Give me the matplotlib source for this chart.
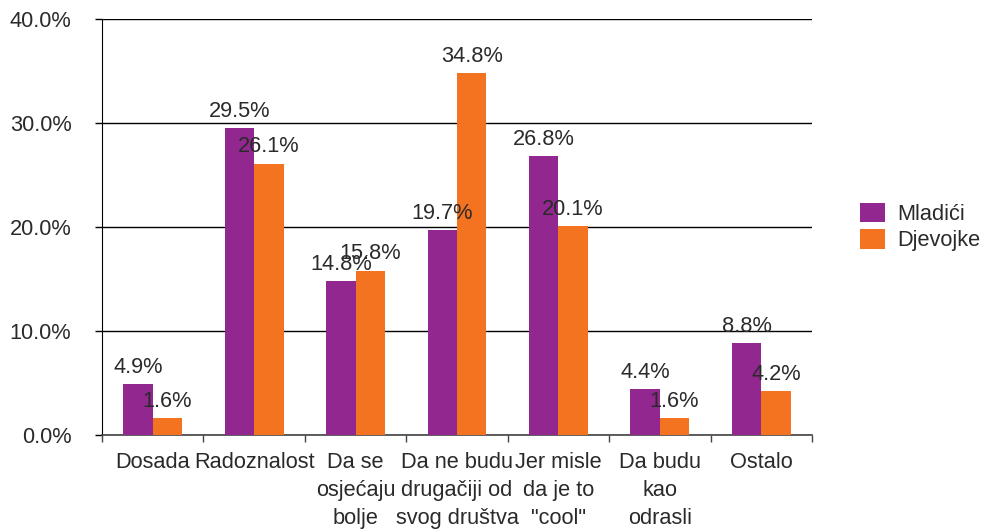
import matplotlib
matplotlib.use("Agg")
import matplotlib.pyplot as plt
import numpy as np

# Razlozi (kategorije) i postoci po spolu
categories = ["Dosada", "Radoznalost", "Da se\nosjećaju\nbolje",
              "Da ne budu\ndrugačiji od\nsvog društva", "Jer misle\nda je to\n\"cool\"",
              "Da budu\nkao\nodrasli", "Ostalo"]
mladici = [4.9, 29.5, 14.8, 19.7, 26.8, 4.4, 8.8]
djevojke = [1.6, 26.1, 15.8, 34.8, 20.1, 1.6, 4.2]
series_names = ["Mladići", "Djevojke"]
yticks = [0, 10, 20, 30, 40]

purple = "#92278F"
orange = "#F37321"
txt = "#2a2a2a"

plt.rcParams['font.family'] = ['Liberation Sans', 'DejaVu Sans']
fs = 15.7

fig = plt.figure(figsize=(9.82, 5.29), dpi=100)
ax = fig.add_axes([0.1039, 0.1777, 0.723, 0.7863])

x = np.arange(len(categories))
w = 0.29
b1 = ax.bar(x - w / 2, mladici, w, color=purple, label=series_names[0], zorder=3)
b2 = ax.bar(x + w / 2, djevojke, w, color=orange, label=series_names[1], zorder=3)

for bars, vals in ((b1, mladici), (b2, djevojke)):
    for r, v in zip(bars, vals):
        ax.annotate(f"{v:.1f}%", (r.get_x() + r.get_width() / 2, v),
                    xytext=(0, 4.5), textcoords="offset points",
                    ha="center", va="bottom", fontsize=fs, color=txt, zorder=4)

ax.set_xlim(-0.5, len(categories) - 0.5)
ax.set_ylim(0, 40)
ax.set_yticks(yticks)
ax.set_yticklabels([f"{t:.1f}%" for t in yticks], fontsize=fs, color=txt)
ax.yaxis.grid(True, color="black", linewidth=1, zorder=0)
ax.tick_params(axis="y", length=5, width=1, pad=17, color="black")

ax.set_xticks(np.arange(len(categories) + 1) - 0.5)
ax.set_xticklabels([])
ax.set_xticks(x, minor=True)
ax.set_xticklabels(categories, minor=True, fontsize=fs, color=txt, linespacing=1.45, va="top")
ax.tick_params(axis="x", which="major", length=5, width=1, color="#444444")
ax.tick_params(axis="x", which="minor", length=0, pad=12)

for s in ("top", "right"):
    ax.spines[s].set_visible(False)
ax.spines["left"].set_color("black")
ax.spines["bottom"].set_color("#444444")
ax.spines["bottom"].set_linewidth(1.2)

leg = ax.legend(loc="center left", bbox_to_anchor=(1.04, 0.5), frameon=False,
                fontsize=fs, handlelength=1.15, handleheight=1.0, handletextpad=0.55,
                labelspacing=0.2)
for t in leg.get_texts():
    t.set_color(txt)

fig.savefig("out.png", dpi=100)
